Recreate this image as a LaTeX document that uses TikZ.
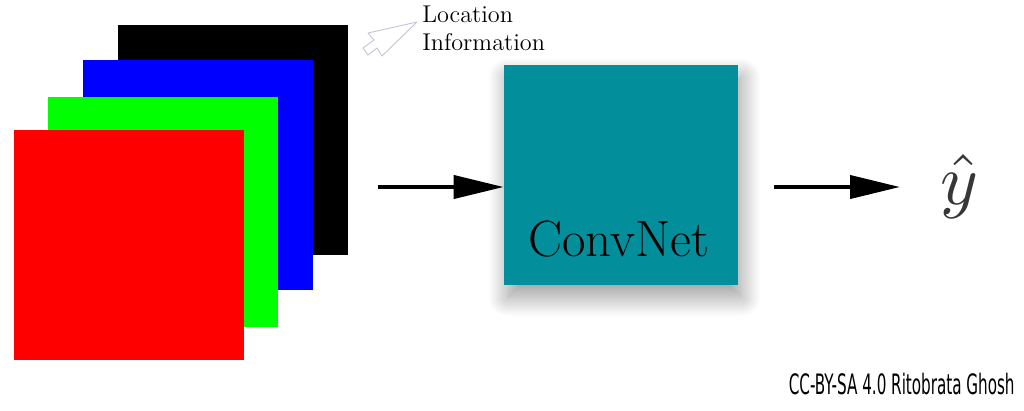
\documentclass[tikz,border=0pt]{standalone}
\usepackage{amsmath}
\usepackage{fontspec}
\usepackage{tikz}
\usetikzlibrary{arrows.meta,shadows.blur}
\newfontfamily\creditfont{DejaVu Sans Condensed}
\definecolor{convteal}{RGB}{2,142,155}
\definecolor{hatgray}{RGB}{55,55,55}
\definecolor{pointer}{RGB}{200,192,215}

\begin{document}
\begin{tikzpicture}[x=0.02cm,y=-0.02cm,
        chan/.style = {minimum size=4.6cm, inner sep=0pt},
        net/.style = {fill=convteal, minimum width=4.68cm, minimum height=4.4cm, inner sep=0pt,
                      blur shadow={shadow xshift=2pt, shadow yshift=-7pt, shadow blur radius=11pt,
                                   shadow blur steps=25, shadow opacity=40}},
        arr/.style = {line width=0.08cm, -{Triangle[length=1cm,width=0.46cm]}}]
        \useasboundingbox (0,0) rectangle (1024,410);
        % input channels, back to front
        \node[chan, fill=black] (k) at (233,140) {};
        \node[chan, fill=blue] (b) at (198,175) {};
        \node[chan, fill=green] (g) at (163,212) {};
        \node[chan, fill=red] (r) at (129,245) {};
        % location note
        \node[anchor=north west, inner sep=0pt, align=left, font=\fontsize{13.8}{15.9}\selectfont] (loc) at (422,6) {Location\\Information};
        \draw[pointer, line width=0.5pt, line join=round] (417,22) -- (368,33) -- (374,40) -- (363,48) -- (368,55) -- (377,48) -- (382,56) -- cycle;
        % network
        \node[net] (cn) at (621,175) {};
        \node[font=\fontsize{29}{33}\selectfont, anchor=base] (cnlab) at (619,256) {ConvNet};
        \node[anchor=west, inner xsep=0.8cm, text=hatgray] (yhat) at (900,186) {\scalebox{4.1}{$\hat{y}$}};
        \coordinate (a1) at (378,187);
        \coordinate (a2) at (774,187);
        \draw[arr] (a1) -- (a1 -| cn.west);
        \draw[arr] (a2) -- (a2 -| yhat.west);
        % credit
        \node[anchor=base east, inner sep=0pt, font=\creditfont\fontsize{16}{18}\selectfont] (cc) at (1015,394) {\scalebox{0.6}[1]{CC-BY-SA 4.0 Ritobrata Ghosh}};
\end{tikzpicture}
\end{document}
